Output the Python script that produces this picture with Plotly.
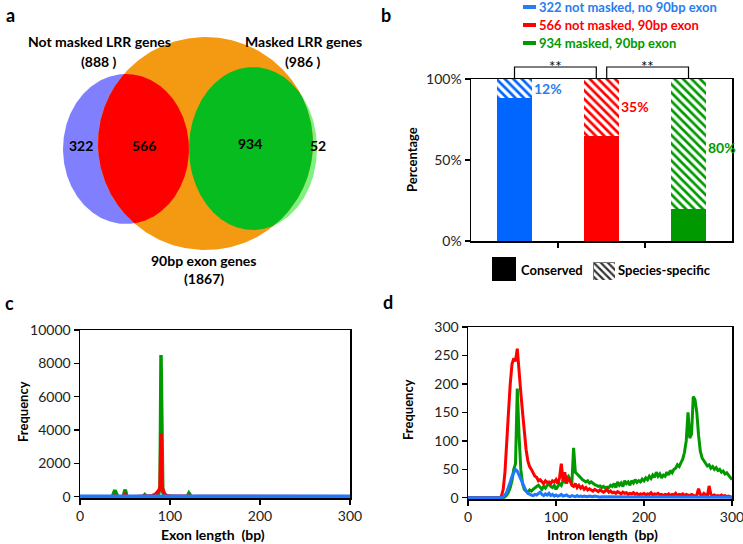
import numpy as np
import plotly.graph_objects as go

W, H = 743, 544

# ---------------- data ----------------
# panel a (Venn counts)
venn_labels = ["Not masked LRR genes", "Masked LRR genes", "90bp exon genes"]
venn_totals = ["888 ", "986 ", "1867"]
venn_regions = [322, 566, 934, 52]

# panel b
groups = ["322 not masked, no 90bp exon", "566 not masked, 90bp exon", "934 masked, 90bp exon"]
group_colors = ["#0066FF", "#FF0000", "#009A00"]
conserved_pct = [88, 65, 20]
specific_pct = [12, 35, 80]
specific_labels = ["12%", "35%", "80%"]
pct_ticks = [0, 50, 100]
pct_ticktext = ["0%", "50%", "100%"]

# panel c (exon length histogram)
exon_len = [0, 10, 20, 30, 36, 38, 39, 40, 42, 48, 49, 50, 51, 52, 60, 70, 71, 72, 73, 74,
            80, 84, 86, 87, 88, 89, 90, 91, 92, 93, 94, 96, 100, 110, 119, 120, 121, 122, 123,
            130, 150, 200, 250, 300]
exon_green = [0, 0, 0, 0, 0, 300, 380, 250, 0, 0, 350, 420, 300, 0, 0, 0, 60, 120, 60, 0,
              0, 50, 80, 120, 300, 600, 8500, 500, 250, 120, 60, 20, 0, 0, 0, 150, 220, 150, 0,
              0, 0, 0, 0, 0]
exon_red = [0, 0, 0, 0, 0, 0, 60, 0, 0, 0, 100, 150, 80, 0, 0, 0, 0, 40, 0, 0,
            50, 150, 250, 300, 400, 600, 3800, 600, 450, 250, 150, 80, 30, 20, 0, 40, 60, 30, 0,
            10, 5, 5, 5, 0]
exon_blue = [20, 20, 20, 20, 20, 20, 20, 20, 20, 20, 20, 20, 20, 20, 20, 20, 20, 20, 20, 20,
             20, 20, 20, 20, 20, 20, 30, 20, 20, 20, 20, 20, 20, 20, 20, 20, 20, 20, 20,
             20, 20, 20, 20, 20]

# panel d (intron length histogram), every 2 bp from 0 to 300
intron_len = list(range(0, 301, 2))
intron_red = [
    0, 0, 0, 0, 0, 0, 0, 0, 0, 0,
    0, 0, 0, 0, 0, 0, 0, 0, 0, 3,
    15, 45, 90, 150, 200, 235, 245, 240, 262, 230,
    185, 150, 110, 85, 65, 55, 50, 45, 38, 36,
    30, 32, 28, 25, 30, 27, 28, 25, 30, 28,
    32, 25, 35, 60, 30, 45, 25, 35, 30, 22,
    20, 25, 18, 22, 17, 20, 15, 18, 14, 16,
    14, 12, 15, 13, 11, 14, 12, 10, 12, 15,
    10, 12, 9, 10, 8, 11, 9, 7, 10, 8,
    9, 6, 8, 7, 9, 6, 8, 5, 7, 6,
    8, 5, 7, 6, 9, 5, 7, 6, 8, 5,
    6, 4, 6, 5, 7, 4, 6, 5, 8, 4,
    6, 5, 7, 4, 6, 5, 4, 6, 5, 3,
    5, 16, 6, 4, 8, 5, 3, 21, 6, 4,
    5, 3, 4, 3, 5, 3, 4, 2, 3, 2,
    1]
intron_green = [
    0, 0, 0, 0, 0, 0, 0, 0, 0, 0,
    0, 0, 0, 0, 0, 0, 0, 0, 0, 0,
    0, 2, 5, 10, 18, 30, 50, 60, 192, 110,
    50, 25, 15, 12, 10, 14, 12, 15, 18, 20,
    22, 18, 15, 20, 17, 22, 25, 20, 18, 22,
    15, 20, 25, 22, 30, 28, 35, 38, 30, 25,
    88, 45, 42, 38, 35, 32, 30, 28, 30, 26,
    28, 25, 23, 22, 20, 21, 18, 20, 17, 19,
    18, 22, 20, 25, 18, 28, 22, 26, 20, 30,
    25, 28, 22, 30, 26, 32, 27, 30, 28, 33,
    30, 35, 32, 38, 34, 40, 36, 45, 38, 42,
    35, 40, 38, 45, 40, 48, 44, 50, 52, 58,
    55, 62, 68, 80, 100, 150, 105, 112, 178, 172,
    150, 110, 82, 70, 65, 60, 56, 58, 52, 55,
    50, 53, 48, 50, 45, 47, 42, 44, 40, 38,
    32]
intron_blue = [
    0, 0, 0, 0, 0, 0, 0, 0, 0, 0,
    0, 0, 0, 0, 0, 0, 0, 0, 0, 0,
    2, 5, 10, 18, 28, 38, 45, 50, 47, 40,
    32, 25, 18, 12, 8, 6, 5, 4, 6, 5,
    8, 10, 6, 4, 7, 5, 8, 4, 6, 3,
    5, 3, 4, 6, 3, 4, 5, 3, 2, 4,
    3, 2, 4, 2, 3, 2, 3, 2, 2, 3,
    2, 2, 3, 2, 2, 1, 2, 2, 1, 2,
    2, 1, 2, 1, 2, 2, 1, 2, 1, 2,
    1, 2, 1, 2, 1, 1, 2, 1, 2, 1,
    1, 2, 1, 1, 2, 1, 1, 2, 1, 1,
    2, 1, 1, 2, 1, 1, 2, 1, 1, 1,
    2, 1, 1, 1, 2, 1, 1, 1, 2, 1,
    1, 1, 2, 1, 1, 1, 2, 1, 1, 1,
    1, 2, 1, 1, 1, 1, 2, 1, 1, 1,
    1]

line_colors = {"green": "#009A00", "red": "#FF0000", "blue": "#1E78FF"}

FONT = "Lato, 'Open Sans', Arial, sans-serif"


def px(x):
    return x / W


def py(y):
    return 1 - y / H


def note(x, y, text, size=13, color="black", xanchor="center", angle=0):
    fig.add_annotation(x=px(x), y=py(y), xref="paper", yref="paper", text=text,
                       showarrow=False, xanchor=xanchor, yanchor="middle", textangle=angle,
                       borderpad=0, font=dict(family=FONT, size=size, color=color))


fig = go.Figure()

# ---------------- panel a: Venn ----------------
# ellipse geometry (pixel space): cx, cy, rx, ry
E_blue = (126, 149, 63, 75)
E_lgreen = (253, 148.5, 64, 81.5)
E_orange = (205.5, 143.5, 107.5, 106.5)


def ellipse_pts(e, n=400):
    t = np.linspace(0, 2 * np.pi, n)
    return e[0] + e[2] * np.cos(t), e[1] + e[3] * np.sin(t)


def inside(x, y, e):
    return ((x - e[0]) / e[2]) ** 2 + ((y - e[1]) / e[3]) ** 2 <= 1.0000001


def lens(e1, e2, n=1440):
    x1, y1 = ellipse_pts(e1, n)
    x2, y2 = ellipse_pts(e2, n)
    m1 = inside(x1, y1, e2)
    m2 = inside(x2, y2, e1)
    xs = np.concatenate([x1[m1], x2[m2]])
    ys = np.concatenate([y1[m1], y2[m2]])
    cx, cy = xs.mean(), ys.mean()
    order = np.argsort(np.arctan2(ys - cy, xs - cx))
    xs, ys = xs[order], ys[order]
    return np.append(xs, xs[0]), np.append(ys, ys[0])


for e, col in [(E_blue, "#8080FF"), (E_lgreen, "#80F080"), (E_orange, "#F39A12")]:
    ex, ey = ellipse_pts(e)
    fig.add_trace(go.Scatter(x=ex, y=ey, mode="lines", fill="toself", fillcolor=col,
                             line=dict(width=0, color=col), hoverinfo="skip",
                             xaxis="x", yaxis="y"))
for (e1, e2), col in [((E_blue, E_orange), "#FF0000"), ((E_lgreen, E_orange), "#06BC1E")]:
    lx, ly = lens(e1, e2)
    fig.add_trace(go.Scatter(x=lx, y=ly, mode="lines", fill="toself", fillcolor=col,
                             line=dict(width=0, color=col), hoverinfo="skip",
                             xaxis="x", yaxis="y"))

venn_text_pos = [(81, 145), (144, 145), (250, 144), (318, 145)]
for (tx, ty), v in zip(venn_text_pos, venn_regions):
    note(tx, ty, f"<b>{v}</b>", size=14)

title_pos = [((99, 42), (99, 61)), ((303, 42), (303, 61)), ((204, 260), (204, 278))]
for (p1, p2), lab, tot in zip(title_pos, venn_labels, venn_totals):
    note(p1[0], p1[1], f"<b>{lab}</b>", size=14)
    note(p2[0], p2[1], f"<b>({tot})</b>", size=14)

# ---------------- panel b: stacked bars ----------------
cats = [1, 2, 3]
fig.add_trace(go.Bar(x=cats, y=conserved_pct, width=0.41,
                     marker=dict(color=group_colors, line=dict(width=0)),
                     xaxis="x2", yaxis="y2", hoverinfo="skip"))
fig.add_trace(go.Bar(x=cats, y=specific_pct, width=0.41,
                     marker=dict(color=group_colors, line=dict(width=0),
                                 pattern=dict(shape="\\", fgcolor=group_colors, bgcolor="white",
                                              size=6, solidity=0.45, fillmode="replace")),
                     xaxis="x2", yaxis="y2", hoverinfo="skip"))
label_y = [94, 83, 58]
for c, lab, ly_, col in zip(cats, specific_labels, label_y, group_colors):
    fig.add_annotation(x=c + 0.2, y=ly_, xref="x2", yref="y2", text=f"<b>{lab}</b>",
                       showarrow=False, xanchor="left", yanchor="middle",
                       font=dict(family=FONT, size=14, color=col if col != "#0066FF" else "#2A7DF0"))

# bracket geometry for panel b (axis px box 471..732, 241..79)
B_X0, B_X1, B_Y0, B_Y1 = 471, 732, 241, 79


def bx(v):
    return B_X0 + (v - 0.5) * (B_X1 - B_X0) / 3.0


def by(v):
    return B_Y0 - v * (B_Y0 - B_Y1) / 100.0


for a, b in [(1.0, 1.94), (2.06, 3.0)]:
    xs = [bx(a), bx(a), bx(b), bx(b)]
    ys = [by(100), by(107.4), by(107.4), by(100)]
    path = "M " + " L ".join(f"{px(x):.5f},{py(y):.5f}" for x, y in zip(xs, ys))
    fig.add_shape(type="path", path=path, xref="paper", yref="paper",
                  line=dict(color="black", width=1.2))
    note((bx(a) + bx(b)) / 2, 66, "**", size=15)

# top colored legend
leg_y = [7, 25, 43]
for g, col, ly_ in zip(groups, group_colors, leg_y):
    tcol = "#2A7DF0" if col == "#0066FF" else col
    fig.add_shape(type="line", x0=px(523), x1=px(536), y0=py(ly_), y1=py(ly_),
                  xref="paper", yref="paper", line=dict(color=tcol, width=4))
    note(538, ly_, f"<b>{g}</b>", size=13, color=tcol, xanchor="left")

# bottom legend (Conserved / Species-specific)
fig.add_shape(type="rect", x0=px(492), x1=px(516), y0=py(281), y1=py(257),
              xref="paper", yref="paper", fillcolor="black", line=dict(width=0))
note(520, 270, "<b>Conserved</b>", size=13, xanchor="left")
fig.add_trace(go.Bar(x=[0], y=[1], width=1,
                     marker=dict(color="black", line=dict(width=1, color="#777"),
                                 pattern=dict(shape="\\", fgcolor="#333", bgcolor="white",
                                              size=5, solidity=0.45, fillmode="replace")),
                     xaxis="x5", yaxis="y5", hoverinfo="skip"))
note(617, 270, "<b>Species-specific</b>", size=13, xanchor="left")

# ---------------- panel c ----------------
for ys, col in [(exon_green, "green"), (exon_red, "red"), (exon_blue, "blue")]:
    fig.add_trace(go.Scatter(x=exon_len, y=ys, mode="lines", xaxis="x3", yaxis="y3",
                             line=dict(color=line_colors[col], width=3.5), hoverinfo="skip"))

# ---------------- panel d ----------------
for ys, col in [(intron_green, "green"), (intron_red, "red"), (intron_blue, "blue")]:
    fig.add_trace(go.Scatter(x=intron_len, y=ys, mode="lines", xaxis="x4", yaxis="y4",
                             line=dict(color=line_colors[col], width=3), hoverinfo="skip"))

# ---------------- axes ----------------
tickfont = dict(family=FONT, size=14, color="#222")
box = dict(showline=True, linecolor="black", linewidth=1.5, mirror=True, showgrid=False,
           zeroline=False, ticks="outside", ticklen=5, tickwidth=1.2, tickcolor="black",
           tickfont=tickfont, automargin=False, ticklabeloverflow="allow")
hidden = dict(visible=False, showgrid=False, zeroline=False, automargin=False)

fig.update_layout(
    template="none", autosize=False,
    width=W, height=H, margin=dict(l=0, r=0, t=0, b=0, pad=0, autoexpand=False),
    paper_bgcolor="white", plot_bgcolor="white", showlegend=False, barmode="stack",
    xaxis=dict(domain=[0, px(380)], range=[0, 380], **hidden),
    yaxis=dict(domain=[py(290), 1], range=[290, 0], **hidden),
    xaxis2=dict(domain=[px(471), px(732)], range=[0.5, 3.5], tickvals=[1.5, 2.5],
                showticklabels=False, anchor="y2", **box),
    yaxis2=dict(domain=[py(241), py(79)], range=[0, 100], tickvals=pct_ticks,
                ticktext=pct_ticktext, anchor="x2", **box),
    xaxis3=dict(domain=[px(80), px(350)], range=[0, 300], tickvals=[0, 100, 200, 300],
                anchor="y3", **box),
    yaxis3=dict(domain=[py(498), py(330)], range=[-80, 10000], tickformat="d",
                tickvals=[0, 2000, 4000, 6000, 8000, 10000], anchor="x3", **box),
    xaxis4=dict(domain=[px(468), px(732)], range=[0, 300], tickvals=[0, 100, 200, 300],
                anchor="y4", **box),
    yaxis4=dict(domain=[py(499), py(327)], range=[-2, 300],
                tickvals=[0, 50, 100, 150, 200, 250, 300], anchor="x4", **box),
    xaxis5=dict(domain=[px(593), px(615)], range=[-0.5, 0.5], anchor="y5", **hidden),
    yaxis5=dict(domain=[py(280), py(262)], range=[0, 1], anchor="x5", **hidden),
)

# axis titles and panel letters
note(412, 160, "<b>Percentage</b>", angle=-90)
note(23, 412, "<b>Frequency</b>", angle=-90)
note(408, 410, "<b>Frequency</b>", angle=-90)
note(213, 534, "<b>Exon length  (bp)</b>", size=14)
note(602, 534, "<b>Intron length  (bp)</b>", size=14)
for letter, (lx, ly_) in zip("abcd", [(10, 15), (386, 15), (9, 303), (388, 302)]):
    note(lx, ly_, f"<b>{letter}</b>", size=18)

fig.write_html("out.html", config={"displayModeBar": False, "staticPlot": True},
               post_script="document.body.style.margin='0px';document.body.style.overflow='hidden';")
